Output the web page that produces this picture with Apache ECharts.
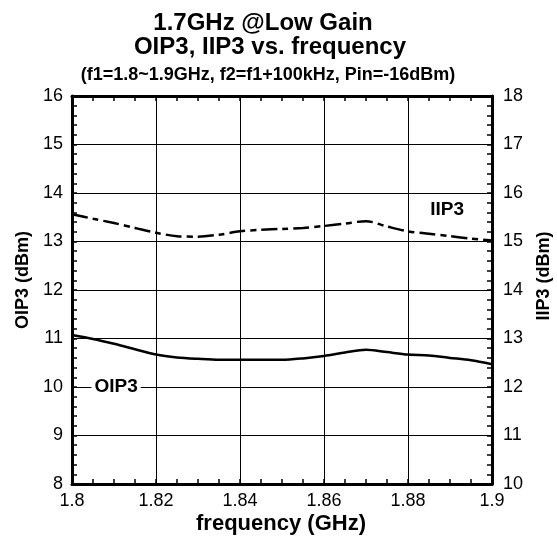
<!DOCTYPE html>
<html>
<head>
<meta charset="utf-8">
<script src="https://cdn.jsdelivr.net/npm/echarts@6/dist/echarts.min.js"></script>
<style>
  html, body { margin: 0; padding: 0; background: #ffffff; }
  #chart { width: 557px; height: 547px; }
</style>
</head>
<body>
<div id="chart"></div>
<script>
// Frequency sweep (GHz)
const frequency = [1.800, 1.805, 1.810, 1.815, 1.820, 1.825, 1.830, 1.835, 1.840, 1.845,
                   1.850, 1.855, 1.860, 1.865, 1.870, 1.875, 1.880, 1.885, 1.890, 1.895, 1.900];
// Output IP3 (dBm), left axis
const oip3 = [11.07, 10.99, 10.89, 10.78, 10.67, 10.61, 10.58, 10.56, 10.56, 10.56,
              10.56, 10.59, 10.64, 10.71, 10.77, 10.72, 10.67, 10.65, 10.60, 10.55, 10.47];
// Input IP3 (dBm), right axis
const iip3 = [15.56, 15.47, 15.38, 15.28, 15.18, 15.11, 15.10, 15.14, 15.21, 15.24,
              15.26, 15.28, 15.32, 15.37, 15.42, 15.31, 15.21, 15.16, 15.11, 15.06, 15.02];

// Axis ranges
const freqRange = [1.8, 1.9, 0.02];
const oipRange = [8, 16, 1];
const iipRange = [10, 18, 1];

// Series label anchors [frequency, level]
const oipLabelAt = [1.8105, 10];
const iipLabelAt = [1.8893, 15.65];

const FONT = '"Liberation Sans", Arial, Helvetica, sans-serif';
const INK = '#000000';

const chart = echarts.init(document.getElementById('chart'), null, { renderer: 'canvas' });

const pairs = (xs, ys) => xs.map((x, i) => [x, ys[i]]);

const frameLine = { show: true, onZero: false, lineStyle: { color: INK, width: 3 } };
const grid1 = { color: INK, width: 1 };

const xBase = {
  type: 'value',
  min: freqRange[0], max: freqRange[1], interval: freqRange[2],
  axisLine: frameLine,
  axisTick: { show: true, inside: true, length: 5, lineStyle: { color: INK, width: 1.5 } },
  minorTick: { show: true, splitNumber: 4, length: 5, lineStyle: { color: INK, width: 1.5 } },
};

const yBase = {
  type: 'value',
  axisLine: frameLine,
  axisTick: { show: true, inside: true, length: 5, lineStyle: { color: INK, width: 1.5 } },
  minorTick: { show: true, splitNumber: 5, length: 5, lineStyle: { color: INK, width: 1.5 } },
  axisLabel: { color: INK, fontFamily: FONT, fontSize: 18 },
};

const option = {
  backgroundColor: '#ffffff',
  animation: false,
  grid: { left: 72, right: 65, top: 96, bottom: 63, containLabel: false },
  xAxis: [
    Object.assign({}, xBase, {
      position: 'bottom',
      axisLabel: {
        color: INK, fontFamily: FONT, fontSize: 18, margin: 8,
        formatter: v => String(Number(v.toFixed(2)))
      },
      splitLine: { show: true, lineStyle: grid1 },
    }),
    Object.assign({}, xBase, {
      position: 'top',
      axisLabel: { show: false },
      splitLine: { show: false },
    }),
  ],
  yAxis: [
    Object.assign({}, yBase, {
      position: 'left',
      min: oipRange[0], max: oipRange[1], interval: oipRange[2],
      axisLabel: Object.assign({}, yBase.axisLabel, { margin: 9 }),
      splitLine: { show: true, lineStyle: grid1 },
    }),
    Object.assign({}, yBase, {
      position: 'right',
      min: iipRange[0], max: iipRange[1], interval: iipRange[2],
      axisLabel: Object.assign({}, yBase.axisLabel, { margin: 11 }),
      splitLine: { show: false },
    }),
  ],
  graphic: [
    { type: 'text', x: 263, y: 23, style: { text: '1.7GHz @Low Gain', font: 'bold 24px ' + FONT, fill: INK, textAlign: 'center', textVerticalAlign: 'middle' } },
    { type: 'text', x: 270, y: 47, style: { text: 'OIP3, IIP3 vs. frequency', font: 'bold 24px ' + FONT, fill: INK, textAlign: 'center', textVerticalAlign: 'middle' } },
    { type: 'text', x: 268, y: 75, style: { text: '(f1=1.8~1.9GHz, f2=f1+100kHz, Pin=-16dBm)', font: 'bold 18px ' + FONT, fill: INK, textAlign: 'center', textVerticalAlign: 'middle' } },
    { type: 'text', x: 281, y: 524, style: { text: 'frequency (GHz)', font: 'bold 22px ' + FONT, fill: INK, textAlign: 'center', textVerticalAlign: 'middle' } },
    { type: 'text', x: 23, y: 280, rotation: Math.PI / 2, style: { text: 'OIP3 (dBm)', font: 'bold 18px ' + FONT, fill: INK, textAlign: 'center', textVerticalAlign: 'middle' } },
    { type: 'text', x: 544, y: 276, rotation: Math.PI / 2, style: { text: 'IIP3 (dBm)', font: 'bold 18px ' + FONT, fill: INK, textAlign: 'center', textVerticalAlign: 'middle' } },
  ],
  series: [
    {
      name: 'OIP3',
      type: 'line',
      xAxisIndex: 0, yAxisIndex: 0,
      data: pairs(frequency, oip3),
      smooth: 0.3,
      symbol: 'none',
      lineStyle: { color: INK, width: 2.5 },
      z: 5,
      markPoint: {
        symbol: 'rect', symbolSize: 1,
        itemStyle: { color: 'rgba(0,0,0,0)' },
        label: {
          show: true, position: 'inside', formatter: 'OIP3',
          color: INK, fontFamily: FONT, fontWeight: 'bold', fontSize: 19,
          backgroundColor: '#ffffff', padding: [1, 3, 0, 3]
        },
        data: [{ coord: oipLabelAt }]
      }
    },
    {
      name: 'IIP3',
      type: 'line',
      xAxisIndex: 0, yAxisIndex: 1,
      data: pairs(frequency, iip3),
      smooth: 0.3,
      symbol: 'none',
      lineStyle: { color: INK, width: 2.5, type: [16, 5, 6, 5] },
      z: 5,
      markPoint: {
        symbol: 'rect', symbolSize: 1,
        itemStyle: { color: 'rgba(0,0,0,0)' },
        label: {
          show: true, position: 'inside', formatter: 'IIP3',
          color: INK, fontFamily: FONT, fontWeight: 'bold', fontSize: 19,
          backgroundColor: '#ffffff', padding: [1, 3, 0, 3]
        },
        data: [{ coord: iipLabelAt }]
      }
    }
  ]
};

chart.setOption(option);
</script>
</body>
</html>
